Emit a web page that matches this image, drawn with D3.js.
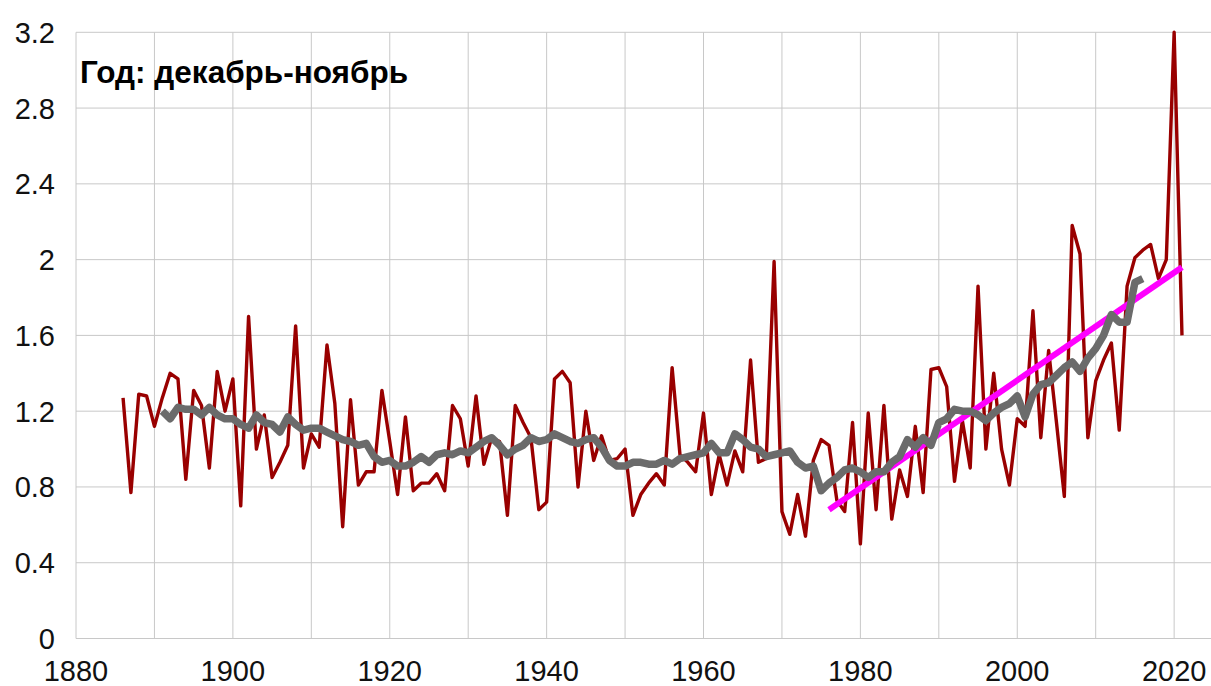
<!DOCTYPE html>
<html>
<head>
<meta charset="utf-8">
<script src="https://d3js.org/d3.v7.min.js"></script>
<style>
  body { margin: 0; background: #fff; }
  svg { font-family: "Liberation Sans", Arial, sans-serif; display: block; }
  .grid line { stroke: #c8c8c8; stroke-width: 1; }
  .tick-label { font-size: 29px; fill: #111; }
</style>
</head>
<body>
<svg id="chart" width="1211" height="686"></svg>
<script>
// annual values, Dec-Nov year, starting 1886
const redStart = 1886;
const redValues = [
  1.27, 0.77, 1.29, 1.28, 1.12, 1.27, 1.40, 1.37, 0.84, 1.31,
  1.23, 0.90, 1.41, 1.20, 1.37, 0.70, 1.70, 1.00, 1.18, 0.85,
  0.93, 1.02, 1.65, 0.90, 1.08, 1.01, 1.55, 1.24, 0.59, 1.26,
  0.81, 0.88, 0.88, 1.31, 1.04, 0.76, 1.17, 0.78, 0.82, 0.82,
  0.87, 0.78, 1.23, 1.16, 0.91, 1.28, 0.92, 1.06, 1.04, 0.65,
  1.23, 1.14, 1.06, 0.68, 0.72, 1.37, 1.41, 1.35, 0.80, 1.20,
  0.94, 1.07, 0.94, 0.95, 1.00, 0.65, 0.76, 0.82, 0.87, 0.81,
  1.43, 0.97, 0.93, 0.88, 1.19, 0.76, 0.97, 0.81, 0.99, 0.88,
  1.47, 0.93, 0.95, 1.99, 0.67, 0.55, 0.76, 0.54, 0.94, 1.05,
  1.02, 0.73, 0.67, 1.14, 0.50, 1.19, 0.68, 1.23, 0.63, 0.89,
  0.75, 1.12, 0.77, 1.42, 1.43, 1.33, 0.83, 1.15, 0.90, 1.86,
  1.00, 1.40, 1.00, 0.81, 1.16, 1.12, 1.73, 1.06, 1.52, 1.14,
  0.75, 2.18, 2.03, 1.06, 1.36, 1.47, 1.56, 1.10, 1.86, 2.01,
  2.05, 2.08, 1.90, 2.00, 3.20, 1.60
];

// smoothed curve, starting 1891
const grayStart = 1891;
const grayValues = [
  1.20, 1.16, 1.22, 1.21, 1.21, 1.18, 1.22, 1.18, 1.16, 1.16,
  1.13, 1.11, 1.18, 1.14, 1.13, 1.09, 1.17, 1.13, 1.10, 1.11,
  1.11, 1.09, 1.07, 1.05, 1.04, 1.02, 1.03, 0.96, 0.93, 0.94,
  0.91, 0.91, 0.93, 0.96, 0.93, 0.97, 0.98, 0.97, 0.99, 0.98,
  1.01, 1.04, 1.06, 1.02, 0.97, 1.00, 1.02, 1.06, 1.04, 1.05,
  1.08, 1.06, 1.04, 1.03, 1.05, 1.06, 1.01, 0.94, 0.91, 0.91,
  0.93, 0.93, 0.92, 0.92, 0.94, 0.92, 0.95, 0.96, 0.97, 0.98,
  1.03, 0.98, 0.98, 1.08, 1.05, 1.01, 1.00, 0.96, 0.97, 0.98,
  0.99, 0.93, 0.90, 0.91, 0.78, 0.82, 0.85, 0.89, 0.90, 0.88,
  0.85, 0.88, 0.88, 0.93, 0.96, 1.05, 1.01, 1.06, 1.02, 1.14,
  1.16, 1.21, 1.20, 1.20, 1.18, 1.15, 1.19, 1.22, 1.24, 1.28,
  1.17, 1.29, 1.34, 1.35, 1.39, 1.43, 1.46, 1.41, 1.48, 1.53,
  1.60, 1.71, 1.67, 1.67, 1.88, 1.90
];

// linear trend since 1976
const trendYears = [1976, 2021];
const trendValues = [0.68, 1.96];

const yTicks = [0, 0.4, 0.8, 1.2, 1.6, 2, 2.4, 2.8, 3.2];
const yTickLabels = ["0", "0.4", "0.8", "1.2", "1.6", "2", "2.4", "2.8", "3.2"];
const xGrid = [1880, 1890, 1900, 1910, 1920, 1930, 1940, 1950, 1960, 1970, 1980, 1990, 2000, 2010, 2020];
const xTickLabels = ["1880", "1900", "1920", "1940", "1960", "1980", "2000", "2020"];
const title = "Год: декабрь-ноябрь";

const svg = d3.select("#chart");
const plotLeft = 76, plotRight = 1211, plotTop = 32.3, plotBottom = 638.5;

const x = d3.scaleLinear().domain([1880, 2024.7]).range([plotLeft, plotRight]);
const y = d3.scaleLinear().domain([0, 3.2]).range([plotBottom, plotTop]);

// gridlines
let grid = svg.append("g").attr("class", "grid");
grid.selectAll(".h").data(yTicks).enter().append("line")
  .attr("x1", plotLeft).attr("x2", plotRight)
  .attr("y1", d => y(d)).attr("y2", d => y(d));
grid.selectAll(".v").data(xGrid).enter().append("line")
  .attr("x1", d => x(d)).attr("x2", d => x(d))
  .attr("y1", plotTop).attr("y2", plotBottom);

// tick labels
svg.selectAll(".ylab").data(yTicks).enter().append("text")
  .attr("class", "tick-label")
  .attr("x", 55).attr("y", d => y(d))
  .attr("dy", "0.36em")
  .attr("text-anchor", "end")
  .text((d, i) => yTickLabels[i]);

svg.selectAll(".xlab").data(xTickLabels).enter().append("text")
  .attr("class", "tick-label")
  .attr("x", d => x(+d)).attr("y", 681)
  .attr("text-anchor", "middle")
  .text(d => d);

let line = d3.line().x(d => x(d[0])).y(d => y(d[1]));

let redData = redValues.map((v, i) => [redStart + i, v]);
let grayData = grayValues.map((v, i) => [grayStart + i, v]);
let trendData = trendYears.map((t, i) => [t, trendValues[i]]);

svg.append("path").datum(redData)
  .attr("d", line)
  .attr("fill", "none")
  .attr("stroke", "#990000")
  .attr("stroke-width", 3.4)
  .attr("stroke-linejoin", "round");

svg.append("path").datum(trendData)
  .attr("d", line)
  .attr("fill", "none")
  .attr("stroke", "#ff00ff")
  .attr("stroke-width", 6);

svg.append("path").datum(grayData)
  .attr("d", line)
  .attr("fill", "none")
  .attr("stroke", "#6b6b6b")
  .attr("stroke-width", 7.5)
  .attr("stroke-linejoin", "round");

svg.append("text")
  .attr("x", 80).attr("y", 83)
  .attr("font-size", 31.5)
  .attr("font-weight", "bold")
  .attr("fill", "#000")
  .text(title);
</script>
</body>
</html>
